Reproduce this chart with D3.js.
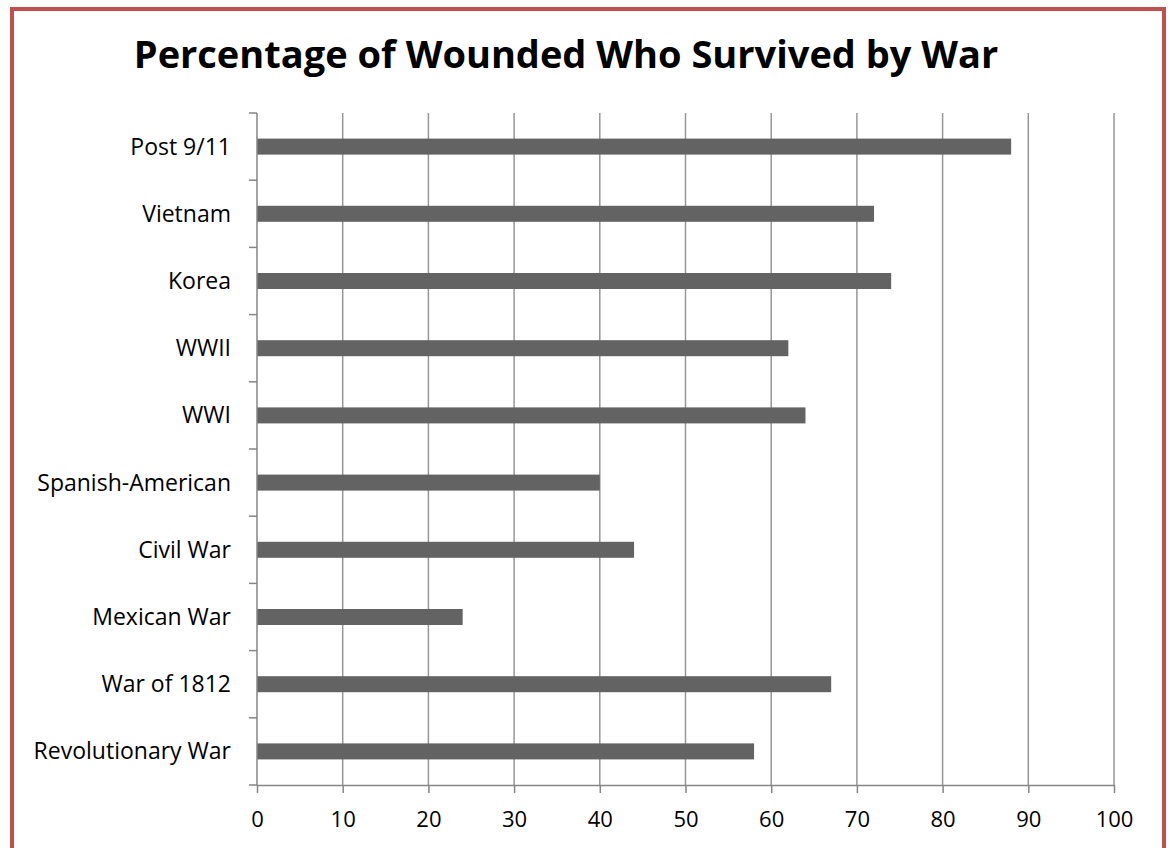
<!DOCTYPE html>
<html><head><meta charset="utf-8">
<script src="https://cdn.jsdelivr.net/npm/d3@7"></script>
<style>
html,body{margin:0;padding:0;background:#fff;}
svg{display:block;}
text{font-family:"Open Sans","DejaVu Sans",sans-serif;}
</style></head>
<body>
<svg id="chart" width="1170" height="848"></svg>
<script>
const categories = ["Post 9/11","Vietnam","Korea","WWII","WWI","Spanish-American","Civil War","Mexican War","War of 1812","Revolutionary War"];
const values = [88,72,74,62,64,40,44,24,67,58];
const xTicks = [0,10,20,30,40,50,60,70,80,90,100];
const title = "Percentage of Wounded Who Survived by War";

const svg = d3.select("#chart");
const m = {left:257, right:1114, top:113, bottom:785};

// border
svg.append("rect").attr("x",12).attr("y",9).attr("width",1152).attr("height",850)
  .attr("fill","none").attr("stroke","#c0504d").attr("stroke-width",4);

svg.append("text").attr("x",566).attr("y",68).attr("text-anchor","middle")
  .attr("font-size",38).attr("font-weight","bold").attr("fill","#000").text(title);

const x = d3.scaleLinear().domain([0,100]).range([m.left,m.right]);
const y = d3.scaleBand().domain(categories).range([m.top,m.bottom]).paddingInner(0).paddingOuter(0);

// gridlines
svg.append("g").selectAll("line").data(xTicks.slice(1)).join("line")
  .attr("x1",d=>x(d)).attr("x2",d=>x(d)).attr("y1",m.top).attr("y2",m.bottom)
  .attr("stroke","#969696").attr("stroke-width",1.5);

// bars
const barH = 16;
svg.append("g").selectAll("rect").data(categories).join("rect")
  .attr("x",x(0)).attr("y",(d,i)=>y(d)+y.bandwidth()/2-barH/2)
  .attr("width",(d,i)=>x(values[i])-x(0)).attr("height",barH)
  .attr("fill","#636363");

// x axis
const xAxis = d3.axisBottom(x).tickValues(xTicks).tickSize(8).tickPadding(18).tickSizeOuter(0);
const gx = svg.append("g").attr("transform",`translate(0,${m.bottom})`).call(xAxis);
gx.select(".domain").attr("stroke","#868686").attr("stroke-width",1.5);
gx.selectAll(".tick line").attr("stroke","#868686").attr("stroke-width",1.5);
gx.selectAll(".tick text").attr("font-size",22).attr("fill","#000").attr("font-family","Open Sans");

// y axis: ticks at band boundaries
const gy = svg.append("g");
gy.append("line").attr("x1",m.left).attr("x2",m.left).attr("y1",m.top).attr("y2",m.bottom)
  .attr("stroke","#868686").attr("stroke-width",1.5);
const bounds = categories.map(c=>y(c)).concat([m.bottom]);
gy.selectAll("line.t").data(bounds).join("line").attr("class","t")
  .attr("x1",m.left-8).attr("x2",m.left).attr("y1",d=>d).attr("y2",d=>d)
  .attr("stroke","#868686").attr("stroke-width",1.5);
gy.selectAll("text").data(categories).join("text")
  .attr("x",m.left-26).attr("y",d=>y(d)+y.bandwidth()/2).attr("dy","0.35em")
  .attr("text-anchor","end").attr("font-size",23).attr("fill","#000").text(d=>d);
</script>
</body></html>
